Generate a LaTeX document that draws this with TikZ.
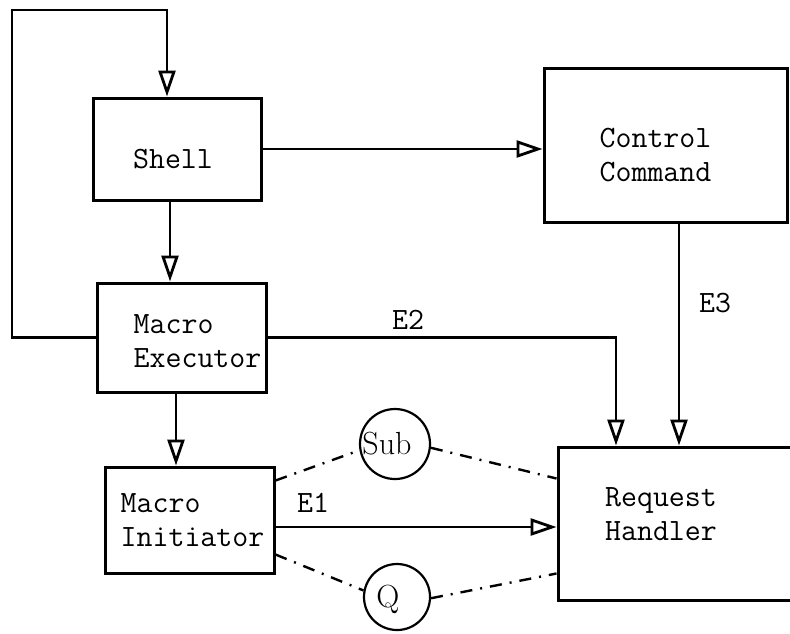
\documentclass[tikz,border=0pt]{standalone}
\usepackage{fontspec}
\usetikzlibrary{arrows.meta,positioning}
\tikzset{
  block/.style={
    draw,
    line width=1.5pt,
    shape=rectangle,
    inner sep=0pt
  },
  pool/.style={
    draw,
    line width=1.1pt,
    shape=circle,
    inner sep=0pt
  },
  flow/.style={
    line width=1.2pt,
    -{Triangle[open,length=13pt,width=8.5pt,line width=1.4pt]}
  },
  ctrl/.style={
    line width=1.2pt,
    dash pattern=on 6pt off 4pt on 1pt off 4pt
  },
  tag/.style={
    font=\fontsize{15.5}{17}\selectfont\ttfamily,
    align=left,
    inner sep=1pt
  },
  rmtag/.style={
    font=\fontsize{16}{18}\selectfont,
    inner sep=0pt
  }
}

\begin{document}
\begin{tikzpicture}[x=0.5pt,y=-0.5pt]
  \useasboundingbox (0,0) rectangle (790,633);
  % boxes
  \node[block,minimum width=84pt,minimum height=51pt,
        label={[tag,xshift=-2pt,yshift=-5pt]center:Shell}] (shell) at (177,149) {};
  \node[block,minimum width=84.5pt,minimum height=54.5pt,
        label={[tag,xshift=8pt,yshift=-2pt]center:Macro\\Executor}] (me) at (181.5,337.5) {};
  \node[block,minimum width=84.5pt,minimum height=53pt,
        label={[tag,xshift=1.5pt]center:Macro\\Initiator}] (mi) at (189.5,520) {};
  \node[block,minimum width=121.5pt,minimum height=77pt,
        label={[tag,xshift=-5pt,yshift=-5pt]center:Control\\Command}] (cc) at (665.5,145) {};
  \node[block,minimum width=131pt,minimum height=76.5pt,
        label={[tag,xshift=-14pt,yshift=4.5pt]center:Request\\Handler}] (rh) at (689,523.5) {};
  \node[pool,minimum size=35pt,label={[rmtag,xshift=-4pt]center:Sub}] (sub) at (395,444) {};
  \node[pool,minimum size=33pt,label={[rmtag,xshift=-4.5pt,yshift=-1pt]center:Q}] (q) at (397,597) {};
  % event labels
  \node[tag] (e2) at (408,320) {E2};
  \node[tag] (e3) at (715,303) {E3};
  \node[tag] (e1) at (313,503) {E1};
  % bends
  \coordinate (loop) at (12,10);
  \coordinate (sin) at (167,0);
  \coordinate (sx) at (170,0);
  \coordinate (mx) at (176,0);
  \coordinate (e2x) at (616,0);
  \coordinate (e3x) at (679,0);
  \coordinate (e1y) at (0,527);
  % arrows
  \draw[flow] (me.west) -| (loop) -| (sin |- shell.north);
  \draw[flow] (sx |- shell.south) -- (sx |- me.north);
  \draw[flow] (mx |- me.south) -- (mx |- mi.north);
  \draw[flow] (shell.east) -- (shell.east -| cc.west);
  \draw[flow] (me.east) -| (e2x |- rh.north);
  \draw[flow] (e3x |- cc.south) -- (e3x |- rh.north);
  \draw[flow] (e1y -| mi.east) -- (e1y -| rh.west);
  % queues
  \draw[ctrl] ([yshift=-7.5pt]mi.north east) -- (sub.190);
  \draw[ctrl] (sub.-6) -- ([yshift=-16.5pt]rh.north west);
  \draw[ctrl] ([yshift=10pt]mi.south east) -- (q.169);
  \draw[ctrl] (q.-2) -- ([yshift=14pt]rh.south west);
\end{tikzpicture}
\end{document}
